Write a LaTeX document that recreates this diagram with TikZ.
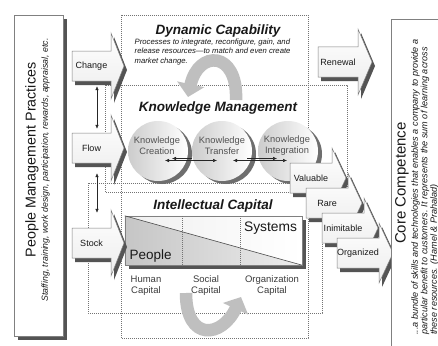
\documentclass[tikz,border=0pt]{standalone}
\usepackage{fontspec}
\setmainfont{Liberation Sans}
\usetikzlibrary{arrows.meta}
\definecolor{shadowgray}{gray}{0.33}
\definecolor{txtc}{gray}{0.1}
\definecolor{bordergray}{gray}{0.5}
\definecolor{dotgray}{gray}{0.45}
% name, cx, cy, body half-width, body half-height, head half-height, head length, text
\newcommand\blockarr[8]{%
  \begin{scope}[shift={(#2,#3)}]
    \fill[arrshadow] (-#4+3,-#5+4) -- (#4+3,-#5+4) -- (#4+3,-#6+4) -- (#4+#7+3,4) -- (#4+3,#6+4) -- (#4+3,#5+4) -- (-#4+3,#5+4) -- cycle;
    \draw[arrbody] (-#4,-#5) -- (#4,-#5) -- (#4,-#6) -- (#4+#7,0) -- (#4,#6) -- (#4,#5) -- (-#4,#5) -- cycle;
  \end{scope}
  \node[arrlabel, minimum width={2*#4}, minimum height={2*#5}] (#1) at (#2,#3) {#8};
}
\begin{document}
\begin{tikzpicture}[x=1pt,y=-1pt,
  dotbox/.style={draw=dotgray, line width=0.6pt, dash pattern=on 0.8pt off 1.2pt},
  arrbody/.style={draw=bordergray, line width=0.5pt, top color=white, bottom color=gray!15},
  arrshadow/.style={fill=shadowgray},
  arrlabel/.style={inner sep=0pt, text=txtc, font=\fontsize{9}{10}\selectfont},
  ttl/.style={font=\fontsize{13.5}{15}\bfseries\itshape\selectfont, text=txtc, inner sep=0pt},
  desc/.style={font=\fontsize{7.7}{9.5}\itshape\selectfont, text=txtc, align=left, inner sep=0pt},
  sphere/.style={circle, minimum size=60pt, inner sep=0pt, left color=gray!40, right color=white},
  sphshadow/.style={circle, minimum size=60pt, inner sep=0pt, fill=shadowgray!85},
  sphtext/.style={font=\fontsize{9.3}{11}\selectfont, align=center, text=txtc!75, inner sep=0pt},
  smallarr/.style={line width=0.5pt, draw=black!85},
  curvearr/.style={line width=12.5pt, draw=gray!50, -{Triangle[width=27pt,length=13pt]}},
  caplabel/.style={font=\fontsize{9.5}{11}\selectfont, align=center, text=txtc!85, inner sep=0pt},
  dblarr/.style={line width=0.5pt, draw=black!85, {Latex[length=4pt,width=3.5pt]}-{Latex[length=4pt,width=3.5pt]}},
  vert/.style={rotate=90, text=txtc, inner sep=0pt}
]
\path[use as bounding box, fill=white] (0,0) rectangle (438,345);

% left box
\fill[shadowgray] (18,19) rectangle (67,340);
\node[draw=bordergray, fill=white, line width=0.6pt, minimum width=49pt, minimum height=321pt, inner sep=0pt] (pmpbox) at (38.5,175.5) {};
\node[vert, font=\fontsize{14.3}{16}\selectfont] (pmptitle) at (32,160) {People Management Practices};
\node[vert, font=\fontsize{8.8}{10}\itshape\selectfont] (pmpsub) at (45.5,170) {Staffing, training, work design, participation, rewards, appraisal, etc.};

% dotted boxes
\draw[dotbox] (121,15) rectangle (308,338);
\draw[dotbox] (105,85) rectangle (347,192);
\draw[dotbox] (88,183) rectangle (322,313);

% curved arrows
\draw[curvearr] (236,100) .. controls (238,50) and (198,50) .. (188,97);
\draw[curvearr] (186,293) .. controls (186,342) and (222,338) .. (241,297);

% Dynamic capability
\node[ttl] (dctitle) at (218,31) {Dynamic Capability};
\node[desc, anchor=north west] (dcdesc) at (134.5,38.5) {Processes to integrate, reconfigure, gain, and\\release resources—to match and even create\\market change.};

% Knowledge management
\node[ttl] (kmtitle) at (218,108) {Knowledge Management};
\node[sphshadow] (kcs) at (162,154) {};
\node[sphere] (kc) at (158,151) {};
\node[sphshadow] (kts) at (226,154) {};
\node[sphere] (kt) at (222,151) {};
\node[sphshadow] (kis) at (292,154) {};
\node[sphere] (ki) at (288,151) {};
\node[sphtext] (kctext) at (157,146) {Knowledge\\Creation};
\node[sphtext] (kttext) at (222,146) {Knowledge\\Transfer};
\node[sphtext] (kitext) at (287,146) {Knowledge\\Integration};
\draw[smallarr, {Latex[length=4pt,width=3.5pt]}-{Latex[length=4pt,width=3.5pt]}] ([shift={(7pt,-9.5pt)}]kc.center) -- ([shift={(-5pt,-9.5pt)}]kt.center);
\draw[smallarr, {Latex[length=4pt,width=3.5pt]}-] ([shift={(14pt,-7.5pt)}]kc.center) -- ([shift={(-30pt,-7.5pt)}]kt.center);
\draw[smallarr, {Latex[length=4pt,width=3.5pt]}-{Latex[length=4pt,width=3.5pt]}] ([shift={(11pt,-9.5pt)}]kt.center) -- ([shift={(-1pt,-9.5pt)}]ki.center);
\draw[smallarr, -{Latex[length=4pt,width=3.5pt]}] ([shift={(25pt,-7.5pt)}]kt.center) -- ([shift={(-11pt,-7.5pt)}]ki.center);

% Intellectual capital
\node[ttl] (ictitle) at (213,206) {Intellectual Capital};
\fill[shadowgray] (129,220) rectangle (306,269);
\node[draw=bordergray, minimum width=177pt, minimum height=49pt, inner sep=0pt, fill=white] (icbox) at (213.5,240.5) {};
\shade[left color=gray!12, right color=white] (icbox.north west) -- (icbox.north east) -- (icbox.south east) -- cycle;
\shade[left color=gray!45, right color=gray!15] (icbox.north west) -- (icbox.south east) -- (icbox.south west) -- cycle;
\draw[bordergray, line width=0.6pt] (icbox.north west) rectangle (icbox.south east);
\draw[black!70, line width=0.6pt] (icbox.north west) -- (icbox.south east);
\draw[dotbox] (182,216) -- (182,265);
\draw[dotbox] (240,216) -- (240,265);
\node[font=\fontsize{13.8}{15}\selectfont, text=txtc, inner sep=0pt] (systems) at (270.5,228) {Systems};
\node[font=\fontsize{13.5}{15}\selectfont, text=txtc, inner sep=0pt, anchor=west] (people) at (129.5,256) {People};
\node[caplabel] (human) at (146,285.5) {Human\\Capital};
\node[caplabel] (social) at (206,285.5) {Social\\Capital};
\node[caplabel] (org) at (272,285.5) {Organization\\Capital};

% left arrows
\blockarr{change}{91.5}{66}{19.5}{15}{33}{13}{Change}
\blockarr{flow}{91.5}{148}{19.5}{15}{33}{13}{Flow}
\blockarr{stock}{91.5}{243}{19.5}{15}{33}{13}{Stock}
\draw[dblarr] ([shift={(5.5pt,-5pt)}]change.south) -- ([shift={(5.5pt,4pt)}]flow.north);
\draw[dblarr] ([shift={(5.5pt,-10pt)}]flow.south) -- ([shift={(5.5pt,15pt)}]stock.north);

% right arrows
\blockarr{renewal}{338}{62}{20}{15}{33}{14}{Renewal}
\blockarr{valuable}{311}{178}{21}{15}{30}{14}{Valuable}
\blockarr{rare}{327}{203}{21}{15}{30}{14}{Rare}
\blockarr{inimitable}{343}{228}{21}{15}{30}{14}{Inimitable}
\blockarr{organized}{358}{253}{21}{15}{30}{14}{Organized}

% core competence
\node[draw=bordergray, fill=white, line width=0.6pt, minimum width=60pt, minimum height=340pt, inner sep=0pt, anchor=north west] (ccbox) at (391,19) {};
\node[vert, font=\fontsize{15}{17}\selectfont] (cctitle) at (402,183) {Core Competence};
\node[vert, anchor=north west, align=left, font=\fontsize{9.1}{7.9}\itshape\selectfont] (ccsub) at (411,335) {...a bundle of skills and technologies that enables a company to provide a\\particular benefit to customers. It represents the sum of learning across\\these resources. (Hamel \& Prahalad)};
\end{tikzpicture}
\end{document}
